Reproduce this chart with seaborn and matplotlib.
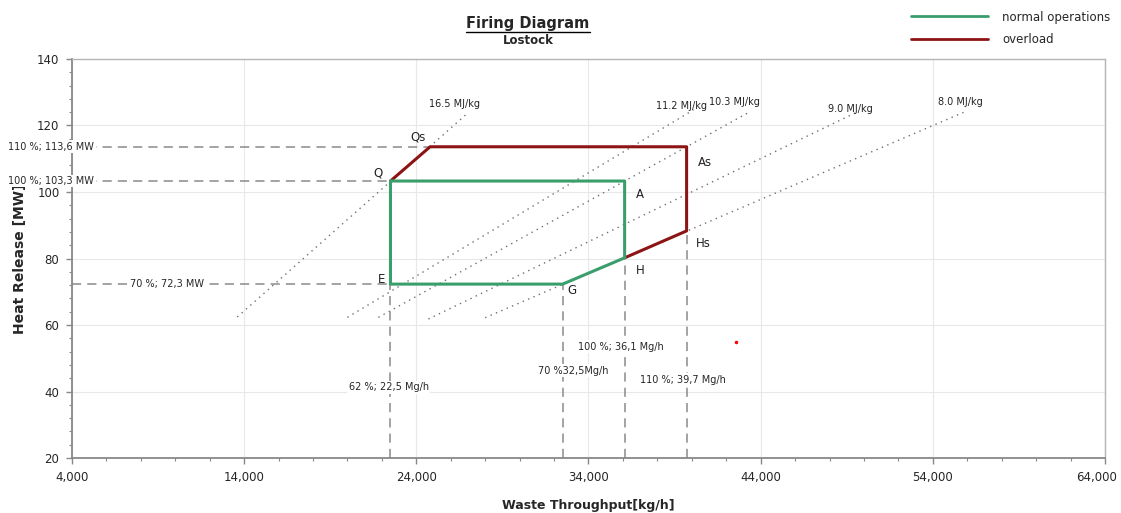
import matplotlib
matplotlib.use("Agg")
import matplotlib.pyplot as plt
import matplotlib.transforms as mtransforms
import seaborn as sns
import pandas as pd
from matplotlib.ticker import MultipleLocator, FuncFormatter, FixedLocator
from matplotlib.lines import Line2D

# operating points [kg/h, MW]
normal_labels = ['Q', 'A', 'H', 'G', 'E', 'Q']
normal_x = [22500, 36100, 36100, 32500, 22500, 22500]
normal_y = [103.3, 103.3, 80.2, 72.3, 72.3, 103.3]

overload_labels = ['Q', 'Qs', 'As', 'Hs', 'H']
overload_x = [22500, 24800, 39700, 39700, 36100]
overload_y = [103.3, 113.6, 113.6, 88.3, 80.2]

# iso calorific value lines (MJ/kg), drawn between two throughputs
lhv_names = ['16.5 MJ/kg', '11.2 MJ/kg', '10.3 MJ/kg', '9.0 MJ/kg', '8.0 MJ/kg']
lhv_x0 = [13600, 20000, 21800, 24700, 28000]
lhv_y0 = [62.4, 62.3, 62.3, 61.8, 62.2]
lhv_x1 = [27000, 40100, 43400, 49500, 55900]
lhv_y1 = [123.8, 124.7, 124.2, 123.8, 124.2]

# reference levels
heat_levels = [113.6, 103.3, 72.3]
heat_level_labels = ['110 %; 113,6 MW', '100 %; 103,3 MW', '70 %; 72,3 MW']
heat_level_xend = [24800, 22500, 22500]

thru_levels = [22500, 32500, 36100, 39700]
thru_level_labels = ['62 %; 22,5 Mg/h', '70 %32,5Mg/h', '100 %; 36,1 Mg/h', '110 %; 39,7 Mg/h']
thru_level_ytop = [72.3, 72.3, 80.2, 88.3]
thru_label_y = [41.3, 46.2, 53.4, 43.5]
thru_label_x = [22400, 33100, 35900, 39500]

x_ticks = [4000, 14000, 24000, 34000, 44000, 54000, 64000]
y_ticks = [20, 40, 60, 80, 100, 120, 140]

green = '#3a9e6c'
red = '#8c1414'

sns.set_theme(style='white')
plt.rcParams['font.family'] = ['DejaVu Sans']

fig = plt.figure(figsize=(11.21, 5.13), dpi=100)
ax = fig.add_axes([0.0642, 0.1072, 0.9215, 0.7778])

# dotted lhv lines
for name, xa, ya, xb, yb in zip(lhv_names, lhv_x0, lhv_y0, lhv_x1, lhv_y1):
    d = pd.DataFrame({'x': [xa, xb], 'y': [ya, yb]})
    sns.lineplot(data=d, x='x', y='y', ax=ax, color='#6f6f6f', lw=1.0,
                 linestyle=(0, (1, 3.2)), estimator=None, sort=False, zorder=2)

lhv_text_pos = {'16.5 MJ/kg': (26200, 126.5), '11.2 MJ/kg': (39400, 126.0),
                '10.3 MJ/kg': (42500, 127.2), '9.0 MJ/kg': (49200, 124.9),
                '8.0 MJ/kg': (55600, 127.2)}
for name in lhv_names:
    tx, ty = lhv_text_pos[name]
    ax.text(tx, ty, name, fontsize=7, ha='center', va='center', color='#222222')

# dashed reference lines
dash = dict(color='#8a8a8a', lw=1.1, linestyle=(0, (6, 4)), zorder=2)
for lvl, xend in zip(heat_levels, heat_level_xend):
    ax.plot([4000, xend], [lvl, lvl], **dash)
for xv, ytop in zip(thru_levels, thru_level_ytop):
    ax.plot([xv, xv], [20, ytop], **dash)

box = dict(boxstyle='square,pad=0.15', fc='white', ec='none')
ax.text(5300, heat_levels[0], heat_level_labels[0], fontsize=7, ha='right', va='center',
        bbox=box, clip_on=False, zorder=10)
ax.text(5300, heat_levels[1], heat_level_labels[1], fontsize=7, ha='right', va='center',
        bbox=box, clip_on=False, zorder=10)
ax.text(9500, heat_levels[2], heat_level_labels[2], fontsize=7, ha='center', va='center',
        bbox=box, zorder=10)
for lab, tx, ty in zip(thru_level_labels, thru_label_x, thru_label_y):
    ax.text(tx, ty, lab, fontsize=7, ha='center', va='center', bbox=box, zorder=10)

# operating envelopes
df = pd.concat([
    pd.DataFrame({'x': overload_x, 'y': overload_y, 'mode': 'overload'}),
    pd.DataFrame({'x': normal_x, 'y': normal_y, 'mode': 'normal operations'}),
])
sns.lineplot(data=df, x='x', y='y', hue='mode', sort=False, estimator=None,
             palette={'normal operations': green, 'overload': red}, lw=2.2,
             ax=ax, legend=False, zorder=5)

point_offsets = {'Q': (-12, 8), 'Qs': (-12, 10), 'A': (15, -13), 'As': (18, -16),
                 'E': (-9, 5), 'G': (9, -6), 'H': (16, -13), 'Hs': (17, -13)}
pts = dict(zip(normal_labels + overload_labels, zip(normal_x + overload_x, normal_y + overload_y)))
for lab, (dx, dy) in point_offsets.items():
    px, py = pts[lab]
    ax.annotate(lab, (px, py), xytext=(dx * 0.72, dy * 0.72), textcoords='offset points',
                fontsize=8.5, ha='center', va='center', color='#222222')

# stray red dot
ax.plot([42560], [54.9], marker='o', ms=1.5, color='red', lw=0)

ax.set_xlim(x_ticks[0], x_ticks[-1])
ax.set_ylim(y_ticks[0], y_ticks[-1])
ax.xaxis.set_major_locator(FixedLocator(x_ticks))
ax.xaxis.set_minor_locator(MultipleLocator(2000))
ax.yaxis.set_major_locator(FixedLocator(y_ticks))
ax.yaxis.set_minor_locator(MultipleLocator(4))
ax.xaxis.set_major_formatter(FuncFormatter(lambda v, p: f'{int(v):,}'))
ax.tick_params(axis='both', which='major', length=4, width=1, color='#888888',
               labelsize=8.5, bottom=True, left=True, pad=5)
ax.tick_params(axis='both', which='minor', length=2.5, width=0.8, color='#888888',
               bottom=True, left=True)
ax.grid(True, which='major', color='#e8e8e8', lw=0.8)
for side in ['left', 'bottom']:
    ax.spines[side].set_color('#888888')
    ax.spines[side].set_linewidth(1.3)
for side in ['top', 'right']:
    ax.spines[side].set_color('#b5b5b5')
    ax.spines[side].set_linewidth(1.0)

# nudge the last x tick label so it stays inside the picture
fig.canvas.draw()
last_lab = ax.get_xticklabels()[-1]
last_lab.set_transform(last_lab.get_transform() +
                       mtransforms.ScaledTranslation(-0.08, 0, fig.dpi_scale_trans))

ax.set_xlabel('Waste Throughput[kg/h]', fontsize=9, fontweight='bold', labelpad=11)
ax.set_ylabel('Heat Release [MW]', fontsize=10, fontweight='bold', labelpad=7)

# title with underline
t = fig.text(0.471, 0.955, 'Firing Diagram', fontsize=10.5, fontweight='bold',
             ha='center', va='center')
fig.text(0.471, 0.921, 'Lostock', fontsize=8.5, fontweight='bold', ha='center', va='center')
fig.canvas.draw()
bb = t.get_window_extent().transformed(fig.transFigure.inverted())
fig.add_artist(Line2D([bb.x0, bb.x1], [bb.y0 - 0.002, bb.y0 - 0.002], color='black', lw=1))

handles = [Line2D([], [], color=green, lw=2), Line2D([], [], color=red, lw=2)]
fig.legend(handles, ['normal operations', 'overload'], loc='upper right',
           bbox_to_anchor=(1.0, 1.0), frameon=False, fontsize=8.5, handlelength=6.5,
           handletextpad=1.2, labelspacing=0.8)

plt.savefig('out.png', dpi=100)
plt.close()
